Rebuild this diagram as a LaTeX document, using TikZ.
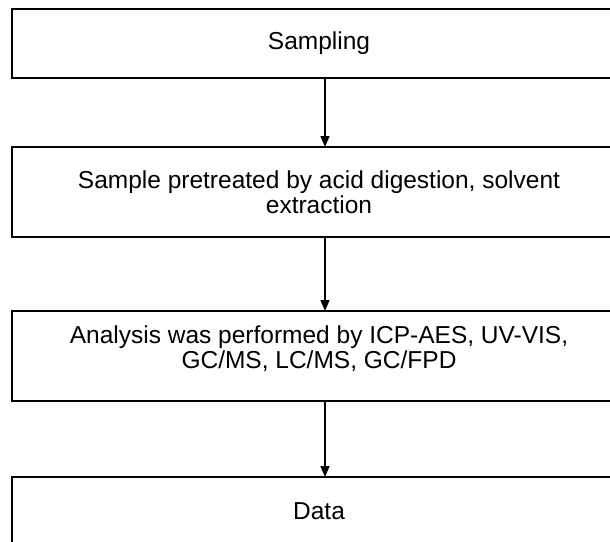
\documentclass[tikz,border=0pt]{standalone}
\usepackage{fontspec}
\setmainfont{Liberation Sans}
\usetikzlibrary{arrows.meta,positioning}
\tikzset{
    flownode/.style = {
        align=center,
        text centered,
        font=\fontsize{24.5}{25}\selectfont,
        rectangle,
        draw=black,
        line width=1.5pt,
        minimum width=614pt,
        inner sep=0pt,
        outer sep=0mm
    },
    smallflownode/.style = {
        flownode,
        minimum height=69pt
    },
    bigflownode/.style = {
        flownode,
        minimum height=90pt
    },
    flowarrow/.style = {
        line width=1.5pt,
        -{Triangle[width=9pt,length=11pt]}
    }
}

\begin{document}
\begin{tikzpicture}
    \useasboundingbox (0,0) rectangle (610pt,-541pt);
    \clip (0,0) rectangle (610pt,-541pt);
    \node [smallflownode] (sampling) at (319pt,-43.5pt) {Sampling};
    \node [bigflownode, below=69pt of sampling] (pretreat) {Sample pretreated by acid digestion, solvent\\extraction};
    \node [bigflownode, below=74pt of pretreat] (analysis) {Analysis was performed by ICP-AES, UV-VIS,\\GC/MS, LC/MS, GC/FPD\\[-8pt]};
    \node [smallflownode, below=76pt of analysis] (data) {Data};
    \draw [flowarrow] ([xshift=6pt]sampling.south) -- ([xshift=6pt]pretreat.north);
    \draw [flowarrow] ([xshift=6pt]pretreat.south) -- ([xshift=6pt]analysis.north);
    \draw [flowarrow] ([xshift=6pt]analysis.south) -- ([xshift=6pt]data.north);
\end{tikzpicture}
\end{document}
